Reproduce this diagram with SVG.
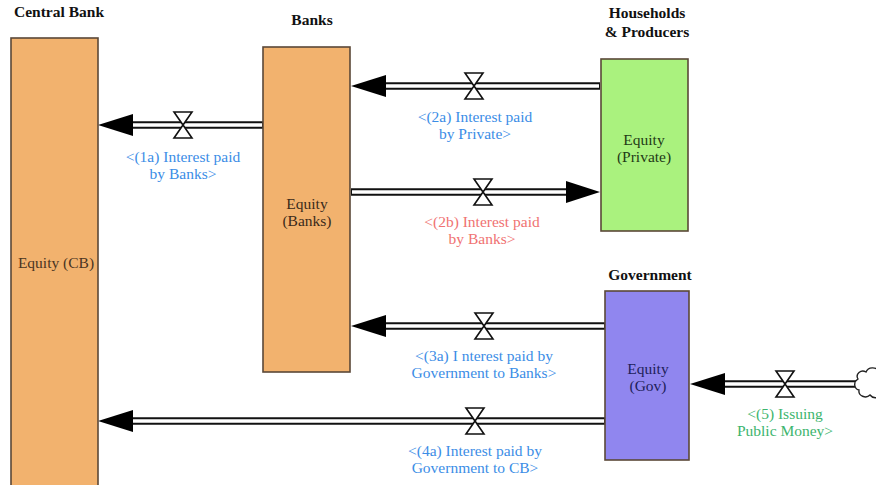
<svg xmlns="http://www.w3.org/2000/svg" width="876" height="485" viewBox="0 0 876 485">
  <defs>
    <style>
      .stock { stroke: #5a4838; stroke-width: 1.6; }
      .cb { fill: #f2b26e; }
      .hh { fill: #aaf27e; }
      .gov { fill: #9086ef; }
      text { font-family: 'Liberation Serif', 'Times New Roman', 'DejaVu Serif', serif; }
      .title { font-weight: bold; font-size: 15.5px; fill: #111; text-anchor: middle; }
      .lbl { font-size: 15.5px; text-anchor: middle; }
      .pipe-out { stroke: #111; stroke-width: 7.5; fill: none; }
      .pipe-in { stroke: #fff; stroke-width: 3.5; fill: none; }
      .head { fill: #000; }
      .valve { fill: #fff; stroke: #111; stroke-width: 1.6; stroke-linejoin: miter; }
      .blue { fill: #3b8de6; }
      .red { fill: #f07272; }
      .green { fill: #3db56e; }
    </style>
    <!-- bow-tie valve centred on the origin -->
    <path id="valve" class="valve" d="M -9,-13 L 9,-13 L 0,0 Z M -9,13 L 9,13 L 0,0 Z"/>
  </defs>

  <rect width="876" height="485" fill="#fff"/>

  <!-- flows -->
  <g id="connectors">
    <!-- (1a) Banks -> Central Bank -->
    <g id="flow-1a">
      <line class="pipe-out" x1="263" y1="125" x2="130" y2="125"/>
      <line class="pipe-in" x1="262" y1="125" x2="130" y2="125"/>
      <polygon class="head" points="98,125 133,114 133,136"/>
      <use href="#valve" x="183" y="125"/>
    </g>
    <!-- (2a) Private -> Banks -->
    <g id="flow-2a">
      <line class="pipe-out" x1="600" y1="86" x2="382" y2="86"/>
      <line class="pipe-in" x1="599" y1="86" x2="382" y2="86"/>
      <polygon class="head" points="351,86 386,75 386,97"/>
      <use href="#valve" x="474" y="86"/>
    </g>
    <!-- (2b) Banks -> Private -->
    <g id="flow-2b">
      <line class="pipe-out" x1="351" y1="192" x2="570" y2="192"/>
      <line class="pipe-in" x1="352" y1="192" x2="570" y2="192"/>
      <polygon class="head" points="600,192 566,181 566,203"/>
      <use href="#valve" x="483" y="192"/>
    </g>
    <!-- (3a) Government -> Banks -->
    <g id="flow-3a">
      <line class="pipe-out" x1="605" y1="326" x2="382" y2="326"/>
      <line class="pipe-in" x1="604" y1="326" x2="382" y2="326"/>
      <polygon class="head" points="351,326 386,315 386,337"/>
      <use href="#valve" x="484" y="326"/>
    </g>
    <!-- (4a) Government -> Central Bank -->
    <g id="flow-4a">
      <line class="pipe-out" x1="605" y1="421" x2="130" y2="421"/>
      <line class="pipe-in" x1="604" y1="421" x2="130" y2="421"/>
      <polygon class="head" points="98,421 133,410 133,432"/>
      <use href="#valve" x="475" y="421"/>
    </g>
    <!-- (5) source cloud -> Government -->
    <g id="flow-5">
      <line class="pipe-out" x1="860" y1="384" x2="722" y2="384"/>
      <line class="pipe-in" x1="861" y1="384" x2="722" y2="384"/>
      <polygon class="head" points="690,384 725,373 725,395"/>
      <use href="#valve" x="785" y="384"/>
      <path d="M 880,372 C 876,366 868,367 866,372 C 861,369 855,374 858,379 C 853,382 854,389 859,390 C 858,396 866,399 870,395 C 873,399 878,398 880,396"
            fill="#fff" stroke="#222" stroke-width="1.4"/>
    </g>
  </g>

  <!-- stocks -->
  <g id="central-bank">
    <rect class="stock cb" x="11" y="38" width="87" height="460"/>
    <text class="title" x="14" y="17" style="text-anchor:start">Central Bank</text>
    <text class="lbl" x="56" y="268" fill="#4a3522">Equity (CB)</text>
  </g>

  <g id="banks">
    <rect class="stock cb" x="263" y="47" width="87" height="325"/>
    <text class="title" x="312" y="25">Banks</text>
    <text class="lbl" x="307" y="209" fill="#3a2a1a">Equity</text>
    <text class="lbl" x="307" y="226" fill="#3a2a1a">(Banks)</text>
  </g>

  <g id="private">
    <rect class="stock hh" x="601" y="59" width="87" height="172"/>
    <text class="title" x="647" y="18">Households</text>
    <text class="title" x="647" y="37">&amp; Producers</text>
    <text class="lbl" x="644" y="145" fill="#1f3a16">Equity</text>
    <text class="lbl" x="644" y="162" fill="#1f3a16">(Private)</text>
  </g>

  <g id="government">
    <rect class="stock gov" x="605" y="291" width="84" height="169"/>
    <text class="title" x="650" y="280">Government</text>
    <text class="lbl" x="648" y="374" fill="#1e1e5a">Equity</text>
    <text class="lbl" x="648" y="391" fill="#1e1e5a">(Gov)</text>
  </g>

  <!-- flow labels -->
  <g id="flow-labels">
    <text class="lbl blue" x="183" y="162">&lt;(1a) Interest paid</text>
    <text class="lbl blue" x="183" y="179">by Banks&gt;</text>
    <text class="lbl blue" x="475" y="122">&lt;(2a) Interest paid</text>
    <text class="lbl blue" x="475" y="139">by Private&gt;</text>
    <text class="lbl red" x="482" y="227">&lt;(2b) Interest paid</text>
    <text class="lbl red" x="482" y="244">by Banks&gt;</text>
    <text class="lbl blue" x="484" y="361">&lt;(3a) I nterest paid by</text>
    <text class="lbl blue" x="484" y="378">Government to Banks&gt;</text>
    <text class="lbl blue" x="475" y="456">&lt;(4a) Interest paid by</text>
    <text class="lbl blue" x="475" y="473">Government to CB&gt;</text>
    <text class="lbl green" x="785" y="419">&lt;(5) Issuing</text>
    <text class="lbl green" x="785" y="436">Public Money&gt;</text>
  </g>
</svg>
